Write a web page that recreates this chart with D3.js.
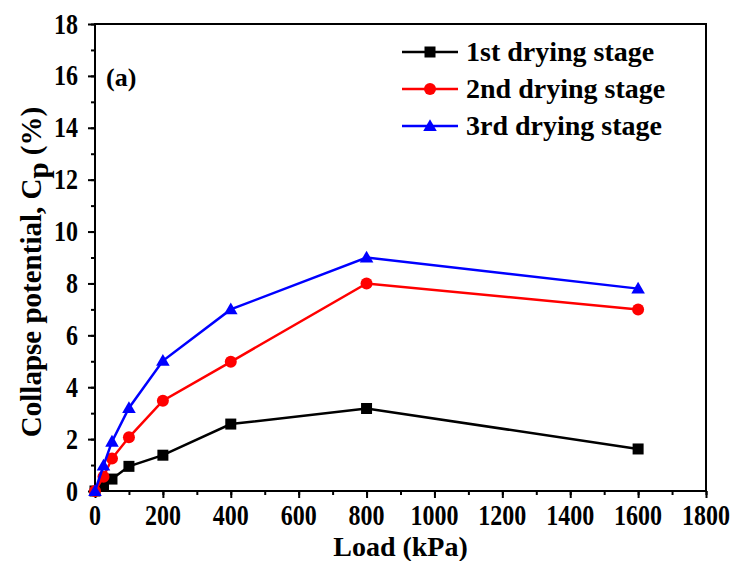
<!DOCTYPE html>
<html><head><meta charset="utf-8">
<script src="https://cdn.jsdelivr.net/npm/d3@7"></script>
<style>body{margin:0;background:#fff}svg{display:block}text{font-family:"Liberation Serif","Times New Roman",serif;font-weight:bold;fill:#000}</style>
</head><body><svg id="c" width="735" height="561"></svg>
<script>
const loads = [0, 25, 50, 100, 200, 400, 800, 1600];
const stage1 = [0, 0.25, 0.46, 0.95, 1.38, 2.58, 3.18, 1.62];
const stage2 = [0, 0.55, 1.25, 2.07, 3.48, 4.98, 8.0, 7.0];
const stage3 = [0, 0.98, 1.9, 3.2, 5.02, 7.0, 9.0, 7.8];
const seriesNames = ["1st drying stage", "2nd drying stage", "3rd drying stage"];
const seriesColors = ["#000000", "#ff0000", "#0000ff"];
const seriesShapes = ["square", "circle", "triangle"];
const xTicks = [0,200,400,600,800,1000,1200,1400,1600,1800];
const yTicks = [0,2,4,6,8,10,12,14,16,18];

const svg = d3.select("#c");
const L=95, R=706, T=24, B=491;
const x = d3.scaleLinear().domain([0,1800]).range([L,R]);
const y = d3.scaleLinear().domain([0,18]).range([B,T]);

// frame
svg.append("rect").attr("x",L).attr("y",T).attr("width",R-L).attr("height",B-T)
  .attr("fill","none").attr("stroke","#000").attr("stroke-width",2);

// x axis ticks
const xa = svg.append("g").attr("transform",`translate(0,${B})`);
xa.call(d3.axisBottom(x).tickValues(d3.range(0,1801,100)).tickSize(4).tickFormat(""));
xa.call(g=>{g.select(".domain").remove(); g.selectAll("line").attr("stroke-width",2);});
const xa2 = svg.append("g").attr("transform",`translate(0,${B})`);
xa2.call(d3.axisBottom(x).tickValues(xTicks).tickSize(7).tickFormat(""));
xa2.call(g=>{g.select(".domain").remove(); g.selectAll("line").attr("stroke-width",2);});
svg.append("g").selectAll("text").data(xTicks).join("text")
  .attr("transform",d=>`translate(${x(d)},525) scale(1,1.22)`)
  .attr("text-anchor","middle").attr("font-size",24).text(d=>d3.format("d")(d));

// y axis ticks
const ya = svg.append("g").attr("transform",`translate(${L},0)`);
ya.call(d3.axisLeft(y).tickValues(d3.range(0,19,1)).tickSize(4).tickFormat(""));
ya.call(g=>{g.select(".domain").remove(); g.selectAll("line").attr("stroke-width",2);});
const ya2 = svg.append("g").attr("transform",`translate(${L},0)`);
ya2.call(d3.axisLeft(y).tickValues(yTicks).tickSize(7).tickFormat(""));
ya2.call(g=>{g.select(".domain").remove(); g.selectAll("line").attr("stroke-width",2);});
svg.append("g").selectAll("text").data(yTicks).join("text")
  .attr("transform",d=>`translate(78,${y(d)+9.5}) scale(1,1.22)`)
  .attr("text-anchor","end").attr("font-size",24).text(d=>d3.format("d")(d));

// axis titles
svg.append("text").attr("x",(L+R)/2).attr("y",556).attr("text-anchor","middle").attr("font-size",28).text("Load (kPa)");
const yt = svg.append("text").attr("transform",`translate(41,272) rotate(-90)`).attr("text-anchor","middle").attr("font-size",29);
yt.append("tspan").text("Collapse potential, C");
yt.append("tspan").attr("dy",7).text("p");
yt.append("tspan").attr("dy",-7).text(" (%)");

svg.append("text").attr("x",106).attr("y",86).attr("font-size",26).text("(a)");

const data = [stage1, stage2, stage3];
function marker(g, shape, color, cx, cy){
  if(shape==="square") g.append("rect").attr("x",cx-5.5).attr("y",cy-5.5).attr("width",11).attr("height",11).attr("fill",color);
  else if(shape==="circle") g.append("circle").attr("cx",cx).attr("cy",cy).attr("r",6).attr("fill",color);
  else g.append("path").attr("d",d3.symbol(d3.symbolTriangle,80)()).attr("transform",`translate(${cx},${cy+1})`).attr("fill",color);
}
const line = d3.line().x(d=>x(d[0])).y(d=>y(d[1]));
data.forEach((vals,i)=>{
  const pts = loads.map((l,j)=>[l,vals[j]]);
  const g = svg.append("g");
  g.append("path").attr("d",line(pts)).attr("fill","none").attr("stroke",seriesColors[i]).attr("stroke-width",2.5);
  pts.forEach(p=>marker(g, seriesShapes[i], seriesColors[i], x(p[0]), y(p[1])));
});

// legend
seriesNames.forEach((n,i)=>{
  const ly = 52 + i*37;
  const g = svg.append("g");
  g.append("line").attr("x1",402).attr("x2",458).attr("y1",ly).attr("y2",ly).attr("stroke",seriesColors[i]).attr("stroke-width",2.5);
  marker(g, seriesShapes[i], seriesColors[i], 430, ly);
  g.append("text").attr("x",466).attr("y",ly+9).attr("font-size",28).text(n);
});
</script></body></html>
